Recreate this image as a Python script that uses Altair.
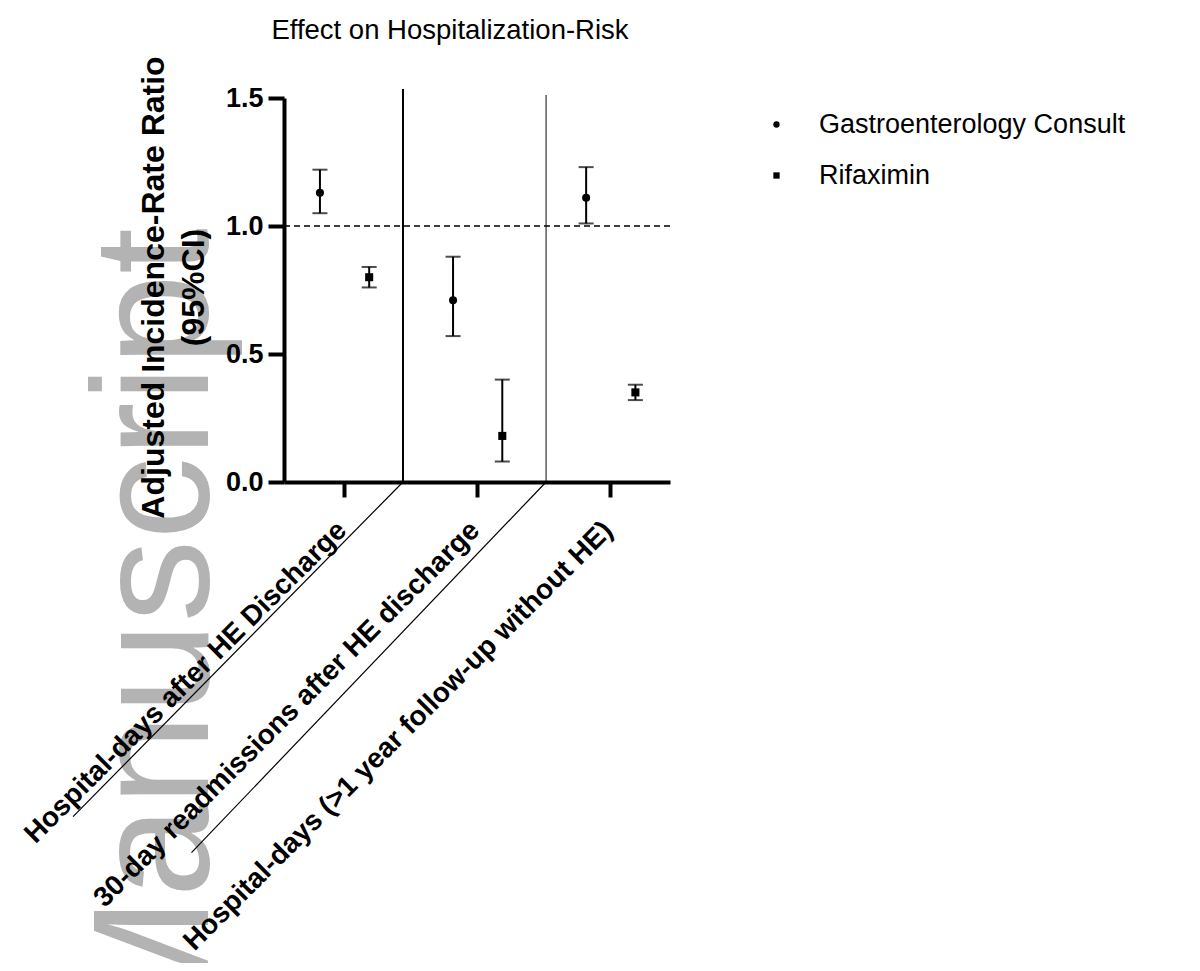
import json
import altair as alt
import pandas as pd

# ---------------- data ----------------
outcomes = [
    "Hospital-days after HE Discharge",
    "30-day readmissions after HE discharge",
    "Hospital-days (>1 year follow-up without HE)",
]
series = ["Gastroenterology Consult", "Rifaximin"]

gi_irr = [1.13, 0.71, 1.11]
gi_lo = [1.05, 0.57, 1.01]
gi_hi = [1.22, 0.88, 1.23]

rif_irr = [0.80, 0.18, 0.35]
rif_lo = [0.76, 0.08, 0.32]
rif_hi = [0.84, 0.40, 0.38]

y_ticks = [0.0, 0.5, 1.0, 1.5]
reference_value = [1.0]

chart_title = "Effect on Hospitalization-Risk"
y_title = ["Adjusted Incidence-Rate Ratio", "(95%CI)"]
watermark = "Manuscript"

# ---------------- layout helpers ----------------
FONT = "Liberation Sans"
series_offset = {series[0]: -0.18, series[1]: 0.19}

rows = []
for i, name in enumerate(outcomes):
    for s, irr, lo, hi in [
        (series[0], gi_irr[i], gi_lo[i], gi_hi[i]),
        (series[1], rif_irr[i], rif_lo[i], rif_hi[i]),
    ]:
        rows.append({"outcome": name, "series": s, "pos": i + 1 + series_offset[s],
                     "irr": irr, "lo": lo, "hi": hi})
df = pd.DataFrame(rows)

# separators between outcome groups (vertical part + slanted part below the axis)
sep = pd.DataFrame({
    "x": [1.444, 2.519],
    "top": [1.535, 1.512],
    "bottom": [0.0, 0.0],
    "x_end": [-1.035, -0.145],
    "y_end": [-1.307, -1.448],
    "w": [2.0, 1.2],
    "c": ["#000000", "#333333"],
})

x_scale = alt.Scale(domain=[0.55, 3.45], nice=False, zero=False)
y_scale = alt.Scale(domain=[0, 1.5], nice=False, zero=False)

label_expr = json.dumps(outcomes) + "[datum.value - 1]"

x_axis = alt.Axis(
    values=[1, 2, 3], labelExpr=label_expr, labelAngle=-45,
    labelFont=FONT, labelFontSize=28, labelFontWeight="bold", labelColor="black",
    labelLimit=0, labelOverlap=False, labelFlush=False,
    labelPadding=19, labelOffset=-12,
    domainColor="black", domainWidth=4, tickColor="black", tickWidth=4, tickSize=15,
    grid=False, title=None, zindex=1,
)
y_axis = alt.Axis(
    values=y_ticks, format=".1f",
    labelFont=FONT, labelFontSize=27, labelFontWeight="bold", labelColor="black",
    labelPadding=5, domainColor="black", domainWidth=4, tickColor="black",
    tickWidth=4, tickSize=16, grid=False,
    title=y_title, titleFont=FONT, titleFontSize=32, titleFontWeight="bold",
    titleColor="black", titleAngle=270, titleBaseline="alphabetic", titleAlign="center",
    titleX=-121, titleY=189, titleLineHeight=40, zindex=1,
)


def X(field):
    return alt.X(field, type="quantitative", scale=x_scale, axis=x_axis)


def Y(field):
    return alt.Y(field, type="quantitative", scale=y_scale, axis=y_axis)


base = alt.Chart(df)

wm_layer = alt.Chart(pd.DataFrame({"t": [watermark]})).mark_text(
    angle=270, align="left", baseline="alphabetic", fontSize=165, font=FONT,
    color="#b3b3b3",
).encode(x=alt.value(-76), y=alt.value(937), text="t:N")

sep_vertical = alt.Chart(sep).mark_rule().encode(
    x=X("x"),
    y=Y("bottom"),
    y2="top:Q",
    strokeWidth=alt.StrokeWidth("w:Q", scale=None, legend=None),
    color=alt.Color("c:N", scale=None, legend=None),
)
sep_slant = alt.Chart(sep).mark_rule(strokeWidth=1.2, color="black").encode(
    x=X("x"),
    x2="x_end:Q",
    y=Y("bottom"),
    y2="y_end:Q",
)

ref_line = alt.Chart(pd.DataFrame({"v": reference_value})).mark_rule(
    strokeDash=[6, 4], strokeWidth=1.5, color="black"
).encode(y=Y("v"))

err = base.mark_errorbar(
    ticks={"size": 15, "thickness": 2, "color": "black"}, thickness=2, color="black"
).encode(
    x=X("pos"),
    y=Y("lo"),
    y2="hi:Q",
)

pts = base.mark_point(filled=True, size=65, opacity=1, color="black").encode(
    x=X("pos"),
    y=Y("irr"),
    shape=alt.Shape(
        "series:N",
        scale=alt.Scale(domain=series, range=["circle", "square"]),
        legend=alt.Legend(
            title=None, orient="none", legendX=479, legendY=13,
            labelFont=FONT, labelFontSize=27, labelColor="black", labelLimit=0,
            labelOffset=29, rowPadding=23, padding=0,
            symbolSize=40, symbolFillColor="black", symbolStrokeColor="black",
        ),
    ),
)

chart = alt.layer(wm_layer, sep_vertical, sep_slant, ref_line, err, pts).properties(
    width=386,
    height=384,
    title=alt.TitleParams(
        chart_title, font=FONT, fontSize=27.5, fontWeight="normal", color="black",
        anchor="middle", frame="group", dx=-27, offset=11,
    ),
    autosize=alt.AutoSizeParams(type="none"),
    padding={"left": 276, "top": 90, "right": 522, "bottom": 481},
).configure_view(stroke=None)

chart.save("out.html", embed_options={"renderer": "svg", "actions": False})
